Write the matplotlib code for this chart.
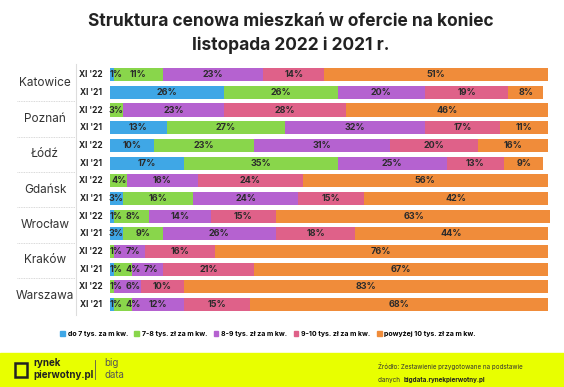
import matplotlib.pyplot as plt
import numpy as np
from matplotlib.patches import Rectangle

plt.rcParams['font.family'] = ['Inter', 'DejaVu Sans']

cities = ['Katowice', 'Poznań', 'Łódź', 'Gdańsk', 'Wrocław', 'Kraków', 'Warszawa']
periods = ["XI '22", "XI '21"]
categories = ['do 7 tys. za m kw.', '7-8 tys. zł za m kw.', '8-9 tys. zł za m kw.',
              '9-10 tys. zł za m kw.', 'powyżej 10 tys. zł za m kw.']
colors = ['#3fa7e6', '#89d64b', '#b562d0', '#df6189', '#f08c3a']

# rows: city XI'22, city XI'21 ...
below_7 = [1, 26, 0, 13, 10, 17, 0, 3, 1, 3, 0, 1, 0, 1]
from_7_8 = [11, 26, 3, 27, 23, 35, 4, 16, 8, 9, 1, 4, 1, 4]
from_8_9 = [23, 20, 23, 32, 31, 25, 16, 24, 14, 26, 7, 7, 6, 12]
from_9_10 = [14, 19, 28, 17, 20, 13, 24, 15, 15, 18, 16, 21, 10, 15]
above_10 = [51, 8, 46, 11, 16, 9, 56, 42, 63, 44, 76, 67, 83, 68]

series = [below_7, from_7_8, from_8_9, from_9_10, above_10]
n = len(below_7)

fig = plt.figure(figsize=(5.64, 3.87), dpi=100)
ax = fig.add_axes([0.195, 0.19, 0.78, 0.64])

y = np.arange(n)
left = np.zeros(n)
label_right = np.full(n, -5.0)  # keep small labels from running into each other
for vals, col in zip(series, colors):
    vals = np.array(vals, dtype=float)
    ax.barh(y, vals, left=left, color=col, height=0.74, linewidth=0)
    for i, (v, l) in enumerate(zip(vals, left)):
        if v <= 0:
            continue
        txt = f'{int(v)}%'
        w = len(txt) * 1.2
        x = max(l + v / 2, label_right[i] + 1.6 + w / 2, w / 2 + 0.1)
        ax.text(x, i, txt, ha='center', va='center',
                fontsize=6.5, fontweight='bold', color='#2b2b2b')
        label_right[i] = x + w / 2
    left += vals

ax.set_xlim(0, 100.5)
ax.set_ylim(n - 0.5, -0.5)
ax.axis('off')

H = 3.87
for i in range(n):
    yy = ax.transData.transform((0, i))[1] / fig.dpi / H
    fig.text(0.161, yy, periods[i % 2], ha='center', va='center',
             fontsize=6, fontweight='bold', color='#222222')
for c, city in enumerate(cities):
    ym = ax.transData.transform((0, 2 * c + 0.5))[1] / fig.dpi / H
    fig.text(0.08, ym, city, ha='center', va='center', fontsize=8.5, color='#333333')
    if c > 0:
        ys = ax.transData.transform((0, 2 * c - 0.5))[1] / fig.dpi / H
        fig.add_artist(plt.Line2D([0.03, 0.133], [ys, ys], color='#cccccc',
                                  linewidth=0.6, linestyle=(0, (1, 1))))
fig.add_artist(plt.Line2D([0.135, 0.135], [0.185, 0.835], color='#dddddd', linewidth=0.8))

fig.text(0.515, 0.945, 'Struktura cenowa mieszkań w ofercie na koniec',
         ha='center', va='center', fontsize=12.5, fontweight='bold', color='#222222')
fig.text(0.515, 0.882, 'listopada 2022 i 2021 r.',
         ha='center', va='center', fontsize=12.5, fontweight='bold', color='#222222')

# legend
handles = [Rectangle((0, 0), 1, 1, color=c) for c in colors]
fig.legend(handles, categories, loc='center', bbox_to_anchor=(0.475, 0.137), ncol=5,
           frameon=False, handlelength=0.7, handleheight=0.7,
           handletextpad=0.4, columnspacing=0.9, prop={'weight': 'bold', 'size': 5})

# footer
fig.add_artist(Rectangle((0, 0), 1, 0.088, transform=fig.transFigure,
                         color='#e8ff00', zorder=0))
fig.add_artist(Rectangle((0.027, 0.027), 0.02, 0.036, transform=fig.transFigure,
                         facecolor='none', edgecolor='#222222', linewidth=1.8))
fig.text(0.06, 0.062, 'rynek', fontsize=7, fontweight='bold', color='#222222', va='center')
fig.text(0.06, 0.031, 'pierwotny.pl', fontsize=7, fontweight='bold', color='#222222', va='center')
fig.add_artist(plt.Line2D([0.168, 0.168], [0.02, 0.07], color='#555555', linewidth=0.6))
fig.text(0.185, 0.062, 'big', fontsize=7, color='#555555', va='center')
fig.text(0.185, 0.031, 'data', fontsize=7, color='#555555', va='center')
fig.text(0.67, 0.055, 'Źródło: Zestawienie przygotowane na podstawie', fontsize=4.5,
         color='#333333', va='center')
t = fig.text(0.67, 0.018, 'danych ', fontsize=4.5, color='#333333', va='center')
r = fig.canvas.get_renderer()
x1 = t.get_window_extent(r).x1 / fig.bbox.width
fig.text(x1 + 0.003, 0.018, 'bigdata.rynekpierwotny.pl', fontsize=4.5, fontweight='bold',
         color='#222222', va='center')

fig.savefig('out.png', dpi=100, facecolor='white')
